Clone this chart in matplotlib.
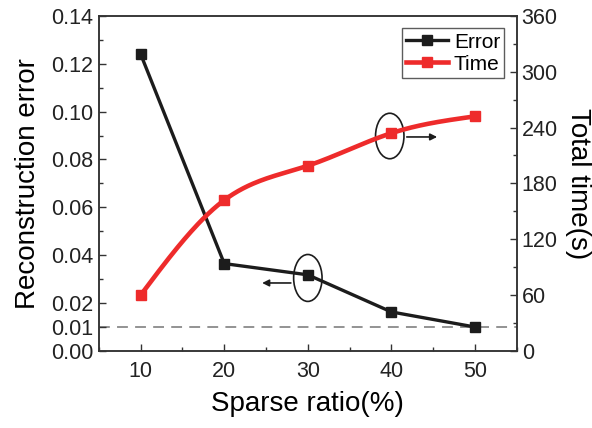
import matplotlib
matplotlib.use("Agg")
import matplotlib.pyplot as plt
import numpy as np
from matplotlib.patches import Ellipse
from matplotlib.ticker import MultipleLocator

plt.rcParams["font.family"] = ["Liberation Sans", "DejaVu Sans"]

sparse_ratio = [10, 20, 30, 40, 50]
error = [0.124, 0.0365, 0.0318, 0.0163, 0.0100]
total_time = [60, 162, 199, 234, 252]
error_ticks = [0.00, 0.01, 0.02, 0.04, 0.06, 0.08, 0.10, 0.12, 0.14]
time_ticks = [0, 60, 120, 180, 240, 300, 360]
threshold = 0.01


def smooth(x, y, n=200):
    # natural cubic spline, drawn through the measured points
    x = np.asarray(x, float)
    y = np.asarray(y, float)
    h = np.diff(x)
    m = len(x)
    A = np.zeros((m, m))
    b = np.zeros(m)
    A[0, 0] = A[-1, -1] = 1
    for i in range(1, m - 1):
        A[i, i - 1] = h[i - 1]
        A[i, i] = 2 * (h[i - 1] + h[i])
        A[i, i + 1] = h[i]
        b[i] = 6 * ((y[i + 1] - y[i]) / h[i] - (y[i] - y[i - 1]) / h[i - 1])
    M = np.linalg.solve(A, b)
    xs = np.linspace(x[0], x[-1], n)
    k = np.clip(np.searchsorted(x, xs) - 1, 0, m - 2)
    t0 = xs - x[k]
    t1 = x[k + 1] - xs
    hk = h[k]
    ys = (M[k] * t1**3 + M[k + 1] * t0**3) / (6 * hk) \
        + (y[k] / hk - M[k] * hk / 6) * t1 + (y[k + 1] / hk - M[k + 1] * hk / 6) * t0
    return xs, ys


black = "#1c1c1c"
red = "#ee2b2b"

fig = plt.figure(figsize=(5.92, 4.28), dpi=100)
ax = fig.add_axes([0.167, 0.18, 0.706, 0.783])
ax2 = ax.twinx()

ax.axhline(threshold, color="#8a8a8a", lw=1.3, ls=(0, (6, 4)), zorder=1)
l1, = ax.plot(sparse_ratio, error, color=black, lw=2.4, marker="s", ms=6.5, zorder=3, label="Error")

xs, ys = smooth(sparse_ratio, total_time)
ax2.plot(xs, ys, color=red, lw=3.3, zorder=3)
ax2.plot(sparse_ratio, total_time, ls="none", color=red, marker="s", ms=6.5, zorder=4)
l2, = ax2.plot([], [], color=red, lw=3.3, marker="s", ms=6.5, label="Time")

ax.set_xlim(5, 55)
ax.set_ylim(0, 0.14)
ax2.set_ylim(0, 360)
ax.set_xticks(sparse_ratio)
ax.set_yticks(error_ticks)
ax.set_yticklabels([f"{v:.2f}" for v in error_ticks])
ax2.set_yticks(time_ticks)
ax.xaxis.set_minor_locator(MultipleLocator(5))
ax.yaxis.set_minor_locator(MultipleLocator(0.01))
ax2.yaxis.set_minor_locator(MultipleLocator(30))

for a in (ax, ax2):
    a.tick_params(which="major", direction="in", length=5, width=1, labelsize=15.5, colors="#333333", labelcolor="#222222")
    a.tick_params(which="minor", direction="in", length=3, width=1, colors="#333333")
    for s in a.spines.values():
        s.set_color("#333333")
        s.set_linewidth(1.1)
ax.tick_params(axis="x", top=False, pad=7)
ax.tick_params(axis="y", pad=4)

ax.set_xlabel("Sparse ratio(%)", fontsize=20, labelpad=7)
ax.set_ylabel("Reconstruction error", fontsize=20, labelpad=7)
ax2.set_ylabel("Total time(s)", fontsize=20, rotation=270, labelpad=24)

# annotation ellipses with arrows
ax.add_patch(Ellipse((30.0, 0.0305), 3.4, 0.0196, fill=False, ec=black, lw=1.2, zorder=5))
ax.annotate("", xy=(24.2, 0.0284), xytext=(28.3, 0.0284),
            arrowprops=dict(arrowstyle="-|>", color=black, lw=1.2, mutation_scale=10))
ax.add_patch(Ellipse((39.8, 0.0898), 3.4, 0.0190, fill=False, ec=black, lw=1.2, zorder=5))
ax.annotate("", xy=(45.8, 0.0894), xytext=(41.5, 0.0894),
            arrowprops=dict(arrowstyle="-|>", color=black, lw=1.2, mutation_scale=10))

leg = ax.legend(handles=[l1, l2], loc="upper right", fontsize=15, frameon=True, fancybox=False,
                handlelength=2.0, handletextpad=0.3, borderpad=0.2, labelspacing=0.15,
                borderaxespad=0.6)
leg.get_frame().set_edgecolor("#333333")
leg.get_frame().set_linewidth(1)
leg.set_zorder(10)

fig.savefig("out.png", dpi=100)
